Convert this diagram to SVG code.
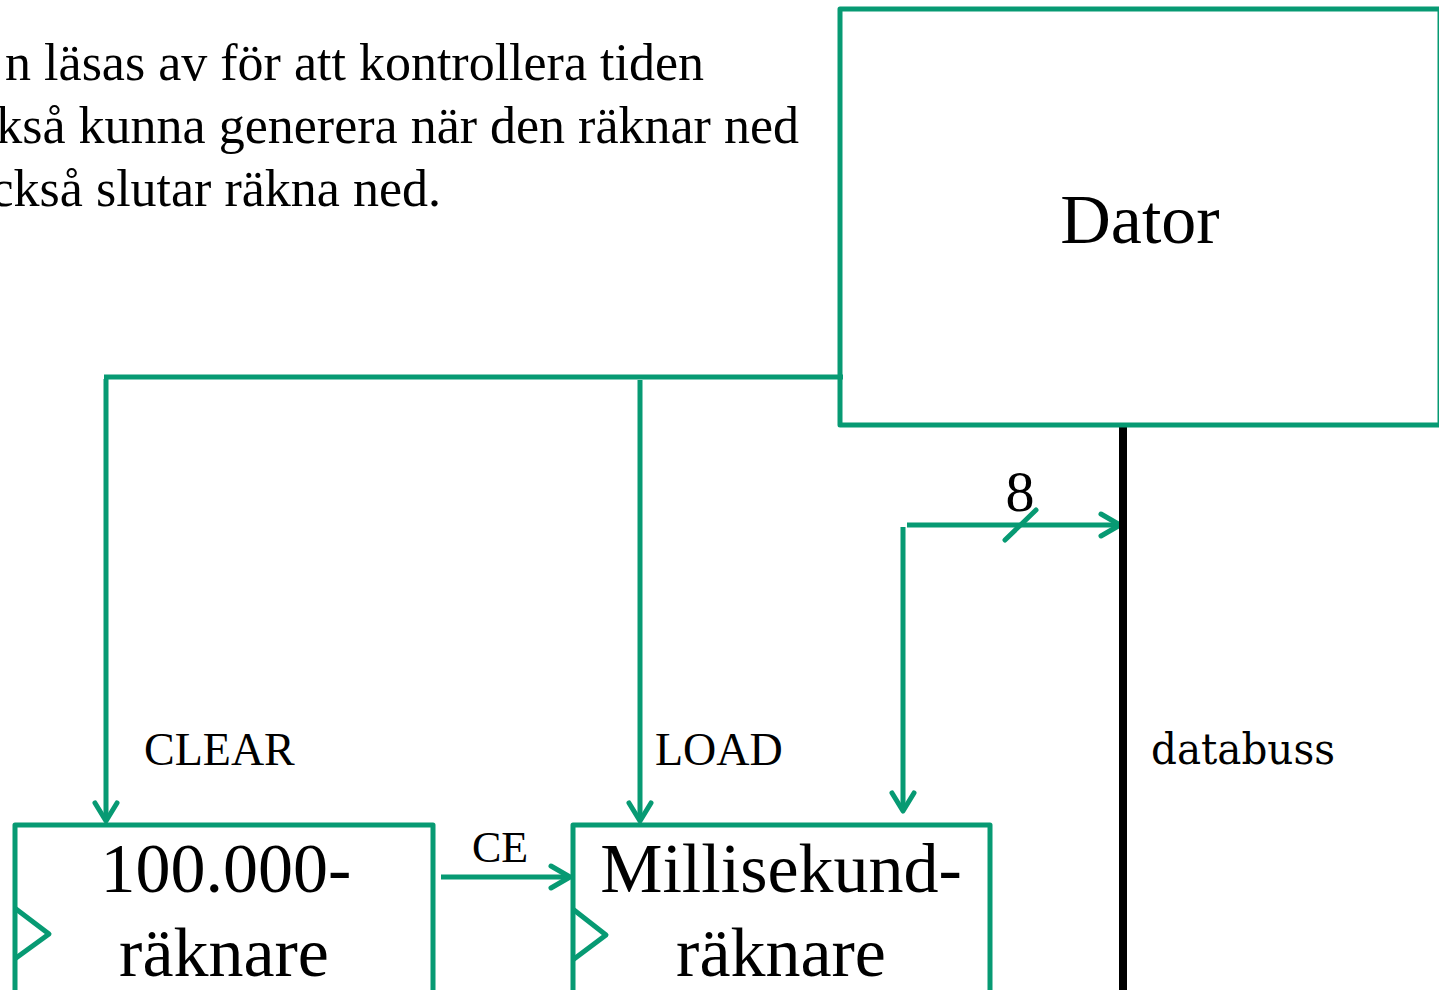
<svg xmlns="http://www.w3.org/2000/svg" width="1439" height="990" viewBox="0 0 1439 990">
<style>
.box{fill:none;stroke:#079A73;stroke-width:5;stroke-linejoin:round}
.ln{fill:none;stroke:#079A73;stroke-width:5;stroke-linecap:butt}
.ah{fill:none;stroke:#079A73;stroke-width:5;stroke-linecap:round;stroke-linejoin:round}
.t{font-family:"Liberation Serif","Times New Roman",serif;fill:#000}
.big{font-size:70px;text-anchor:middle}
.lbl{font-size:46px}
.top{font-size:52px;text-anchor:end}
</style>
<rect width="1439" height="990" fill="#fff"/>
<g id="intro">
<text class="t top" x="704" y="80">n läsas av för att kontrollera tiden</text>
<text class="t top" x="799" y="143">kså kunna generera när den räknar ned</text>
<text class="t top" x="441" y="206">ckså slutar räkna ned.</text>
</g>
<g id="connectors">
<path class="ln" d="M843 377 H104"/>
<path class="ln" d="M106 379 V820"/>
<path class="ah" d="M95 803 L106 821 L117 803"/>
<path class="ln" d="M640 380 V820"/>
<path class="ah" d="M629 803 L640 821 L651 803"/>
<path class="ln" d="M903 527 V810"/>
<path class="ah" d="M892 793 L903 811 L914 793"/>
<path class="ln" d="M907 525 H1119"/>
<path class="ah" d="M1101 514 L1120 525 L1101 536"/>
<path class="ah" d="M1005 540 L1036 510"/>
<text class="t" x="1020" y="511" font-size="58" text-anchor="middle">8</text>
<path class="ln" d="M441 877 H568"/>
<path class="ah" d="M551 866 L570 877 L551 888"/>
<text class="t" x="500" y="862" font-size="44" text-anchor="middle">CE</text>
<path d="M1123 427 V990" stroke="#000" stroke-width="8" fill="none"/>
<text class="t lbl" x="144" y="765">CLEAR</text>
<text class="t lbl" x="655" y="765">LOAD</text>
<text x="1151" y="764" font-family="'DejaVu Serif',serif" font-size="43" textLength="184" lengthAdjust="spacingAndGlyphs" fill="#000">databuss</text>
</g>
<g id="dator">
<rect class="box" x="840" y="9" width="600" height="416"/>
<text class="t big" x="1140" y="243">Dator</text>
</g>
<g id="raknare100000">
<rect class="box" x="15" y="825" width="418" height="200"/>
<path class="ah" d="M16 909 L49 934 L16 958"/>
<text class="t big" x="226" y="892">100.000-</text>
<text class="t big" x="224" y="976">räknare</text>
</g>
<g id="millisekundraknare">
<rect class="box" x="573" y="825" width="417" height="200"/>
<path class="ah" d="M574 910 L606 935 L574 959"/>
<text class="t big" x="781" y="892">Millisekund-</text>
<text class="t big" x="781" y="976">räknare</text>
</g>
</svg>
